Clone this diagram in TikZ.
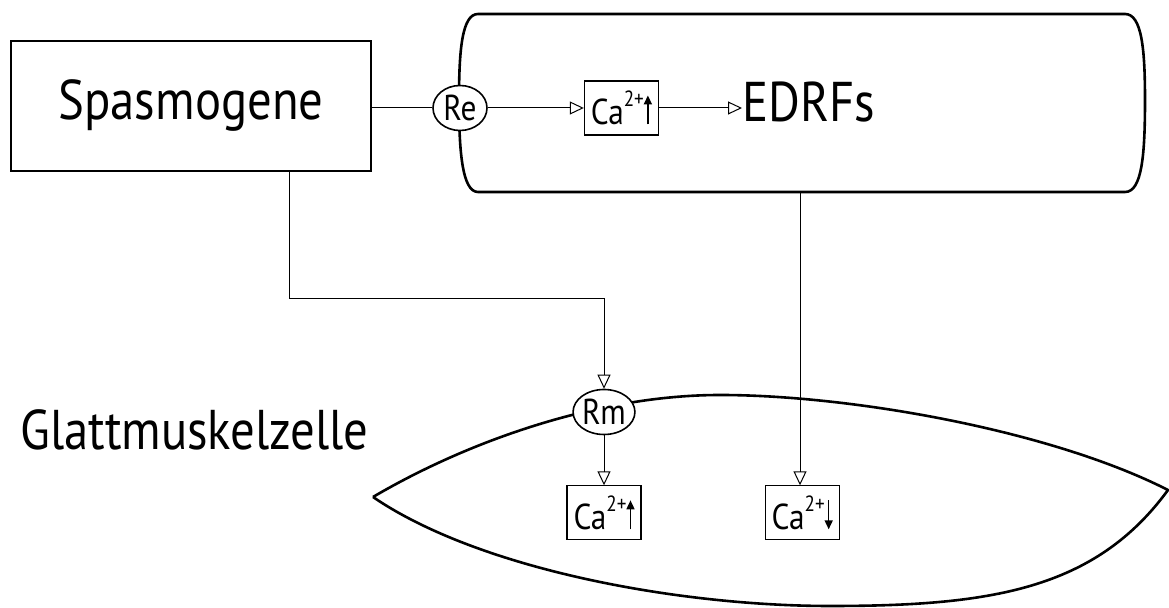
\documentclass[tikz,border=0pt]{standalone}
\usepackage{fontspec}
\setmainfont{PT Sans}[FakeStretch=0.87]
\usepackage{tikz}
\usetikzlibrary{positioning,arrows.meta,shapes.geometric,calc}

% small vertical arrows inside the Ca boxes
\newcommand{\caup}{\tikz[baseline=0pt]\draw[line width=0.8pt,-{Triangle[length=4.5pt,width=4pt]}] (0,0) -- (0,14.5pt);}
\newcommand{\cadown}{\tikz[baseline=0pt]\draw[line width=0.8pt,-{Triangle[length=4.5pt,width=4pt]}] (0,14.5pt) -- (0,0);}
\newcommand{\caion}{Ca\raisebox{9pt}{\fontsize{11}{11}\selectfont 2+}}

\begin{document}
\begin{tikzpicture}[
    x=0.5pt, y=-0.5pt,
    every node/.style={align=center},
    big/.style={font=\fontsize{28}{30}\selectfont, inner sep=0pt},
    src/.style={rectangle, draw, line width=1.2pt, minimum width=180pt, minimum height=65pt},
    recep/.style={ellipse, draw, fill=white, line width=0.8pt, minimum width=27pt, minimum height=22.5pt, inner sep=0pt, font=\fontsize{18}{20}\selectfont},
    cabox/.style={rectangle, draw, fill=white, line width=0.6pt, minimum width=37pt, minimum height=27pt, inner sep=1pt, font=\fontsize{18}{20}\selectfont},
    membrane/.style={line width=1.3pt, line join=round},
    link/.style={line width=0.5pt},
    arr/.style={-{Triangle[open,length=7pt,width=6.5pt]}, line width=0.5pt}
]
\useasboundingbox (0,0) rectangle (1169,608);

% endothelial cell
\draw[membrane] (478,14) -- (1125,14) .. controls (1142,14) and (1145,50) .. (1145,100)
    .. controls (1145,155) and (1142,192) .. (1125,192) -- (478,192)
    .. controls (462,192) and (459,150) .. (459,100)
    .. controls (459,50) and (462,14) .. (478,14) -- cycle;

% smooth muscle cell
\draw[membrane] (373,497) .. controls (470,440) and (600,395) .. (720,395)
    .. controls (850,395) and (1050,430) .. (1168,490)
    .. controls (1095,590) and (990,606) .. (830,606)
    .. controls (680,606) and (480,570) .. (373,497);

\node[src, big, inner sep=0pt] (spasm) at (191,106) {Spasmogene};
\node[big, anchor=base west] (glatt) at (20,450) {Glattmuskelzelle};

\node[recep] (re) at (460,108) {Re};
\node[cabox, right=48pt of re] (caE) {\caion\caup};
\node[big, right=41.5pt of caE, yshift=2.75pt] (edrf) {EDRFs};

\node[recep] (rm) at (604,412) {Rm};
\node[cabox, below=25pt of rm] (caM) {\caion\caup};
\node[cabox, right=61.5pt of caM] (caD) {\caion\cadown};

\coordinate (endobot) at (800,192);

\draw[link] (re.west -| spasm.east) -- (re.west);
\draw[arr] (re.east) -- (caE.west);
\draw[arr] (caE.east) -- (caE.east -| edrf.west);

\draw[arr] ([xshift=49pt]spasm.south) -- ++(0,-63pt) -| (rm.north);
\draw[arr] (rm.south) -- (caM.north);
\draw[arr] (endobot) -- (endobot |- caD.north);

\end{tikzpicture}
\end{document}
